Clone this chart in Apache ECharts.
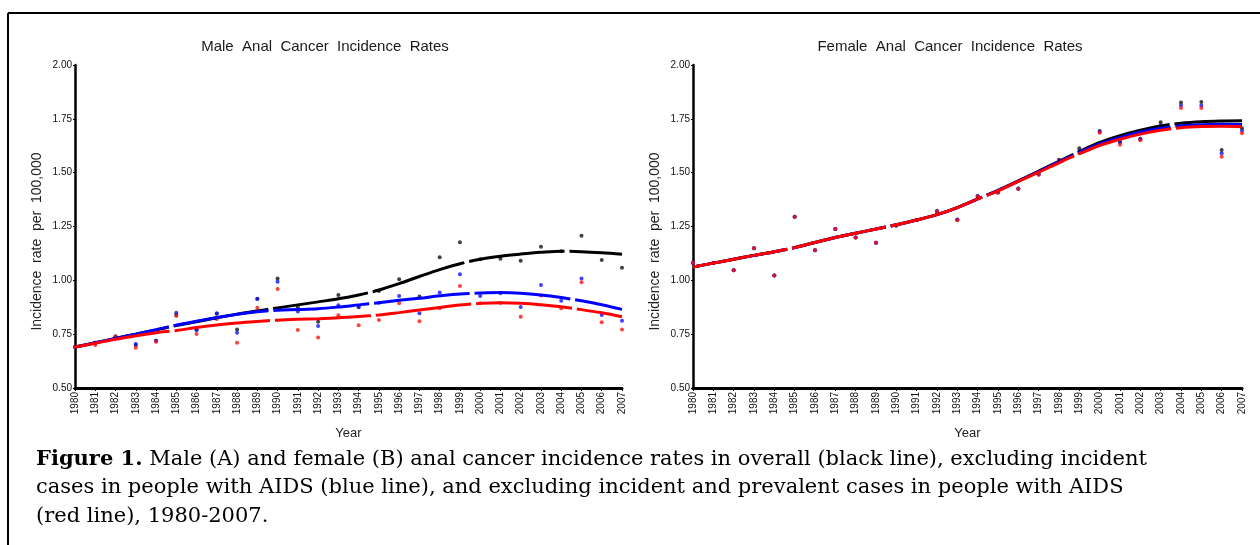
<!DOCTYPE html>
<html>
<head>
<meta charset="utf-8">
<script src="https://cdn.jsdelivr.net/npm/echarts@6/dist/echarts.min.js"></script>
<style>
html,body{margin:0;padding:0;background:#fff;}
#c{width:1260px;height:545px;}
</style>
</head>
<body>
<div id="c"></div>
<script>
// ---- data ----
var years = [1980,1981,1982,1983,1984,1985,1986,1987,1988,1989,1990,1991,1992,1993,1994,1995,1996,1997,1998,1999,2000,2001,2002,2003,2004,2005,2006,2007];
var yTicks = [0.5, 0.75, 1.0, 1.25, 1.5, 1.75, 2.0];

// Male observed rates
var maleOverall = [0.69,0.71,0.74,0.70,0.72,0.84,0.77,0.845,0.772,0.915,1.009,0.875,0.808,0.932,0.876,0.95,1.005,0.925,1.107,1.177,1.098,1.10,1.091,1.156,1.135,1.207,1.094,1.059];
var maleExclInc = [0.69,0.71,0.735,0.704,0.72,0.85,0.769,0.847,0.757,0.913,0.994,0.855,0.788,0.884,0.876,0.896,0.927,0.847,0.943,1.028,0.927,0.94,0.876,0.978,0.905,1.009,0.839,0.812];
var maleExclBoth = [0.69,0.70,0.738,0.687,0.715,0.834,0.751,0.82,0.71,0.873,0.96,0.769,0.735,0.838,0.791,0.816,0.893,0.81,0.87,0.974,0.893,0.895,0.831,0.93,0.87,0.991,0.805,0.772];
// Male smoothed curves
var maleOverallFit = [0.69,0.71,0.73,0.75,0.77,0.79,0.808,0.826,0.843,0.858,0.872,0.886,0.9,0.914,0.932,0.955,0.985,1.018,1.05,1.077,1.098,1.112,1.122,1.13,1.135,1.133,1.128,1.121];
var maleExclIncFit = [0.69,0.71,0.73,0.75,0.771,0.792,0.81,0.827,0.842,0.854,0.861,0.864,0.868,0.876,0.886,0.896,0.907,0.917,0.928,0.937,0.941,0.943,0.94,0.932,0.92,0.905,0.887,0.865];
var maleExclBothFit = [0.69,0.708,0.726,0.742,0.757,0.767,0.781,0.793,0.802,0.809,0.815,0.819,0.822,0.826,0.832,0.839,0.85,0.862,0.874,0.885,0.893,0.896,0.894,0.887,0.877,0.864,0.849,0.831];

// Female observed rates
var femaleOverall = [1.082,1.08,1.047,1.149,1.023,1.295,1.14,1.238,1.199,1.175,1.255,1.28,1.322,1.283,1.392,1.408,1.427,1.495,1.56,1.613,1.694,1.645,1.657,1.734,1.826,1.828,1.605,1.706];
var femaleExclInc = [1.082,1.08,1.047,1.149,1.023,1.295,1.14,1.238,1.199,1.175,1.255,1.28,1.321,1.281,1.39,1.408,1.425,1.492,1.557,1.60,1.69,1.64,1.655,1.72,1.812,1.812,1.59,1.695];
var femaleExclBoth = [1.082,1.08,1.047,1.149,1.023,1.295,1.14,1.238,1.199,1.175,1.255,1.28,1.32,1.279,1.388,1.408,1.424,1.49,1.555,1.59,1.685,1.63,1.65,1.713,1.80,1.80,1.574,1.683];
// Female smoothed curves
var femaleOverallFit = [1.062,1.08,1.098,1.116,1.133,1.152,1.176,1.199,1.219,1.238,1.258,1.28,1.305,1.338,1.378,1.418,1.462,1.507,1.553,1.598,1.64,1.672,1.697,1.717,1.73,1.737,1.74,1.741];
var femaleExclIncFit = [1.062,1.08,1.098,1.116,1.133,1.152,1.176,1.199,1.219,1.238,1.258,1.28,1.305,1.338,1.378,1.417,1.461,1.505,1.55,1.593,1.633,1.663,1.688,1.706,1.718,1.723,1.725,1.724];
var femaleExclBothFit = [1.062,1.08,1.098,1.116,1.133,1.152,1.176,1.199,1.219,1.238,1.258,1.28,1.305,1.338,1.378,1.416,1.46,1.502,1.546,1.588,1.626,1.655,1.679,1.697,1.709,1.714,1.715,1.713];

var titles = ['Male  Anal  Cancer  Incidence  Rates', 'Female  Anal  Cancer  Incidence  Rates'];
var yName = 'Incidence  rate  per  100,000';
var xName = 'Year';
var captionLines = [
  '{b|Figure 1.} Male (A) and female (B) anal cancer incidence rates in overall (black line), excluding incident',
  'cases in people with AIDS (blue line), and excluding incident and prevalent cases in people with AIDS',
  '(red line), 1980-2007.'
];

// ---- build chart ----
var FONT = 'Liberation Sans, Arial, sans-serif';
var SERIF = 'DejaVu Serif, serif';
var COLORS = ['#111111', '#1010ff', '#ff1010'];

function pairs(vals) {
  return years.map(function (y, i) { return [y, vals[i]]; });
}

function xAxisDef(idx) {
  return {
    type: 'value', gridIndex: idx, min: years[0], max: years[years.length - 1], interval: 1,
    name: xName, nameLocation: 'middle', nameGap: 39,
    nameTextStyle: { fontFamily: FONT, fontSize: 13, color: '#222' },
    axisLine: { show: true, onZero: false, lineStyle: { color: '#000', width: 3 } },
    axisTick: { show: true, length: 3, lineStyle: { color: '#000', width: 1 } },
    axisLabel: { rotate: 90, margin: 4, fontFamily: FONT, fontSize: 10, color: '#111',
      formatter: function (v) { return String(v); } },
    splitLine: { show: false }
  };
}
function yAxisDef(idx) {
  return {
    type: 'value', gridIndex: idx, min: yTicks[0], max: yTicks[yTicks.length - 1], interval: 0.25,
    name: yName, nameLocation: 'middle', nameGap: 31, nameRotate: 90,
    nameTextStyle: { fontFamily: FONT, fontSize: 14, color: '#222', padding: [0, 30, 0, 0] },
    axisLine: { show: true, lineStyle: { color: '#000', width: 2.5 } },
    axisTick: { show: true, length: 2, lineStyle: { color: '#000', width: 1 } },
    axisLabel: { margin: 3, fontFamily: FONT, fontSize: 10, color: '#111',
      formatter: function (v) { return v.toFixed(2); } },
    splitLine: { show: false }
  };
}

function scatter(idx, vals, color) {
  return { type: 'scatter', xAxisIndex: idx, yAxisIndex: idx, data: pairs(vals),
    symbol: 'circle', symbolSize: 4, itemStyle: { color: color }, z: 2, silent: true };
}
function fitLine(idx, vals, color, z) {
  return { type: 'line', xAxisIndex: idx, yAxisIndex: idx, data: pairs(vals), smooth: 0.35,
    showSymbol: false, symbol: 'none', z: z,
    lineStyle: { color: color, width: 3, type: [96, 5] }, silent: true };
}

var chart = echarts.init(document.getElementById('c'), null, { renderer: 'canvas' });
chart.setOption({
  backgroundColor: '#ffffff',
  animation: false,
  title: [
    { text: titles[0], left: 320, top: 34, textAlign: 'center',
      textStyle: { fontFamily: FONT, fontSize: 15, fontWeight: 'normal', color: '#1a1a1a' } },
    { text: titles[1], left: 945, top: 34, textAlign: 'center',
      textStyle: { fontFamily: FONT, fontSize: 15, fontWeight: 'normal', color: '#1a1a1a' } }
  ],
  grid: [
    { left: 75, top: 65, width: 547, height: 323 },
    { left: 693, top: 65, width: 549, height: 323 }
  ],
  xAxis: [xAxisDef(0), xAxisDef(1)],
  yAxis: [yAxisDef(0), yAxisDef(1)],
  series: [
    scatter(0, maleOverall, COLORS[0]),
    scatter(0, maleExclInc, COLORS[1]),
    scatter(0, maleExclBoth, COLORS[2]),
    fitLine(0, maleOverallFit, '#000', 3),
    fitLine(0, maleExclIncFit, '#0000ff', 4),
    fitLine(0, maleExclBothFit, '#ff0000', 5),
    scatter(1, femaleOverall, COLORS[0]),
    scatter(1, femaleExclInc, COLORS[1]),
    scatter(1, femaleExclBoth, COLORS[2]),
    fitLine(1, femaleOverallFit, '#000', 3),
    fitLine(1, femaleExclIncFit, '#0000ff', 4),
    fitLine(1, femaleExclBothFit, '#ff0000', 5)
  ],
  graphic: [
    { type: 'line', silent: true, shape: { x1: 8, y1: 13, x2: 1260, y2: 13 }, style: { stroke: '#000', lineWidth: 2 } },
    { type: 'line', silent: true, shape: { x1: 8, y1: 13, x2: 8, y2: 545 }, style: { stroke: '#000', lineWidth: 2 } }
  ].concat(captionLines.map(function (t, i) {
    return { type: 'text', silent: true, left: 36, top: 449 + i * 28.5,
      style: { text: t, fontFamily: SERIF, fontSize: 21, fill: '#000',
        rich: { b: { fontFamily: SERIF, fontSize: 21, fontWeight: 'bold', fill: '#000' } } } };
  }))
});
</script>
</body>
</html>
